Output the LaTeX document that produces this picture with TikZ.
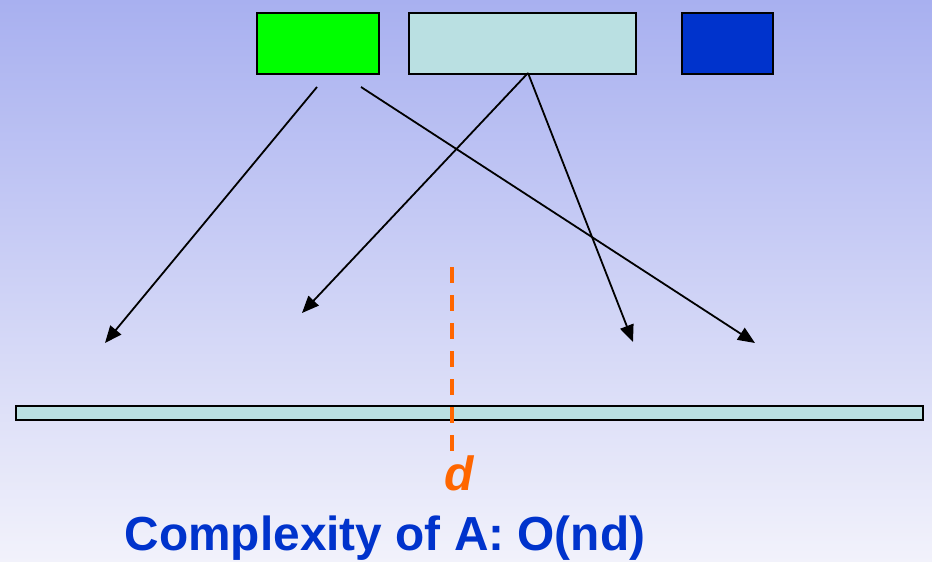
\documentclass[tikz,border=0pt]{standalone}
\usepackage{fontspec}
\setmainfont{Liberation Sans}
\usetikzlibrary{arrows.meta}
\definecolor{bgtop}{HTML}{A8B0F0}
\definecolor{bgbot}{HTML}{F2F2FB}
\definecolor{keygreen}{HTML}{00FF00}
\definecolor{keycyan}{HTML}{BAE0E2}
\definecolor{keyblue}{HTML}{0033CC}
\definecolor{dorange}{HTML}{FF6600}
\definecolor{titleblue}{HTML}{0033CC}
\begin{document}
\begin{tikzpicture}[x=1pt,y=-1pt,
  keybox/.style={draw=black,line width=2.2pt,inner sep=0pt,anchor=north west},
  maparrow/.style={line width=1.8pt,-{Triangle[length=17pt,width=14pt]}},
  cutline/.style={dorange,line width=3.5pt,dash pattern=on 16pt off 12pt}]
  % background
  \shade[top color=bgtop,bottom color=bgbot] (0,0) rectangle (932,562);
  \useasboundingbox (0,0) rectangle (932,562);
  % key boxes
  \node[keybox,fill=keygreen,minimum width=122pt,minimum height=61pt] (g) at (255.5,11.5) {};
  \node[keybox,fill=keycyan,minimum width=227pt,minimum height=61pt] (c) at (407.5,11.5) {};
  \node[keybox,fill=keyblue,minimum width=91pt,minimum height=61pt] (b) at (680.5,11.5) {};
  % long array
  \node[keybox,fill=keycyan,minimum width=907pt,minimum height=14pt] (arr) at (14.5,405) {};
  % arrow origins and targets
  \coordinate (g1) at (317,87);
  \coordinate (g2) at (361,87);
  \coordinate (cs) at (528,73);
  \coordinate (t1) at (105,343);
  \coordinate (t2) at (302,313);
  \coordinate (t3) at (633,342);
  \coordinate (t4) at (755,343);
  \draw[maparrow] (g1) -- (t1);
  \draw[maparrow] (g2) -- (t4);
  \draw[maparrow] (cs) -- (t2);
  \draw[maparrow] (cs) -- (t3);
  % position d
  \coordinate (dtop) at (452,267);
  \coordinate (dbot) at (452,452);
  \draw[cutline] (dtop) -- (dbot);
  \node[anchor=base,text=dorange,font=\fontsize{48}{54}\selectfont\bfseries\itshape,inner sep=0pt] (dlab) at (459,490) {d};
  \node[anchor=base,text=titleblue,font=\fontsize{47.8}{54}\selectfont\bfseries,inner sep=0pt] (title) at (385,550) {Complexity of A: O(nd)};
\end{tikzpicture}
\end{document}
